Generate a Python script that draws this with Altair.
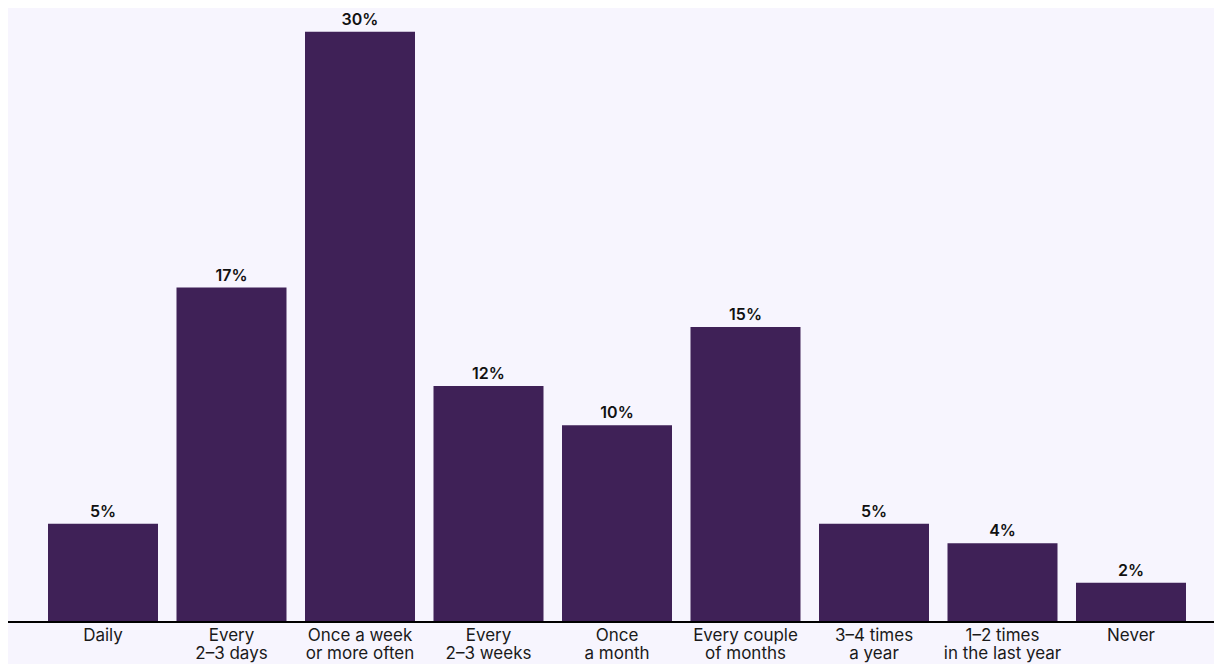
import altair as alt
import pandas as pd

categories = [
    "Daily",
    "Every\n2–3 days",
    "Once a week\nor more often",
    "Every\n2–3 weeks",
    "Once\na month",
    "Every couple\nof months",
    "3–4 times\na year",
    "1–2 times\nin the last year",
    "Never",
]
values = [5, 17, 30, 12, 10, 15, 5, 4, 2]
labels = ["5%", "17%", "30%", "12%", "10%", "15%", "5%", "4%", "2%"]

df = pd.DataFrame({"cat": categories, "val": values, "lab": labels})

BG = "#f7f5fe"
BAR = "#3f2157"
FONT = "Inter"
W, H = 1206, 614

xscale = alt.Scale(range=[40, 1178], paddingInner=0.144, paddingOuter=0)
x = alt.X(
    "cat:N",
    sort=categories,
    scale=xscale,
    axis=alt.Axis(
        title=None,
        labelAngle=0,
        ticks=False,
        domain=False,
        labelFont=FONT,
        labelFontSize=17,
        labelColor="#1a1a1a",
        labelPadding=5,
        labelLineHeight=18,
        labelExpr="split(datum.label, '\\n')",
    ),
)
y = alt.Y("val:Q", scale=alt.Scale(domain=[0, 31.21], nice=False), axis=None)

bars = alt.Chart(df).mark_bar(color=BAR).encode(x=x, y=y)
text = alt.Chart(df).mark_text(
    font=FONT, fontSize=16, fontWeight=600, color="#111111",
    baseline="bottom", dy=-4
).encode(x=alt.X("cat:N", sort=categories), y="val:Q", text="lab:N")
baseline = alt.Chart(df).mark_rule(color="#000000", strokeWidth=2).encode(
    x=alt.value(0), x2=alt.value(W), y=alt.value(H)
)

chart = (
    alt.layer(bars, text, baseline)
    .properties(width=W, height=H, background=BG,
                padding={"left": 0, "top": 0, "right": 0, "bottom": 656 - H},
                autosize=alt.AutoSizeParams(type="none"))
    .configure_view(stroke=None)
)
chart.save("out.html", embed_options={"renderer": "svg", "actions": False})
